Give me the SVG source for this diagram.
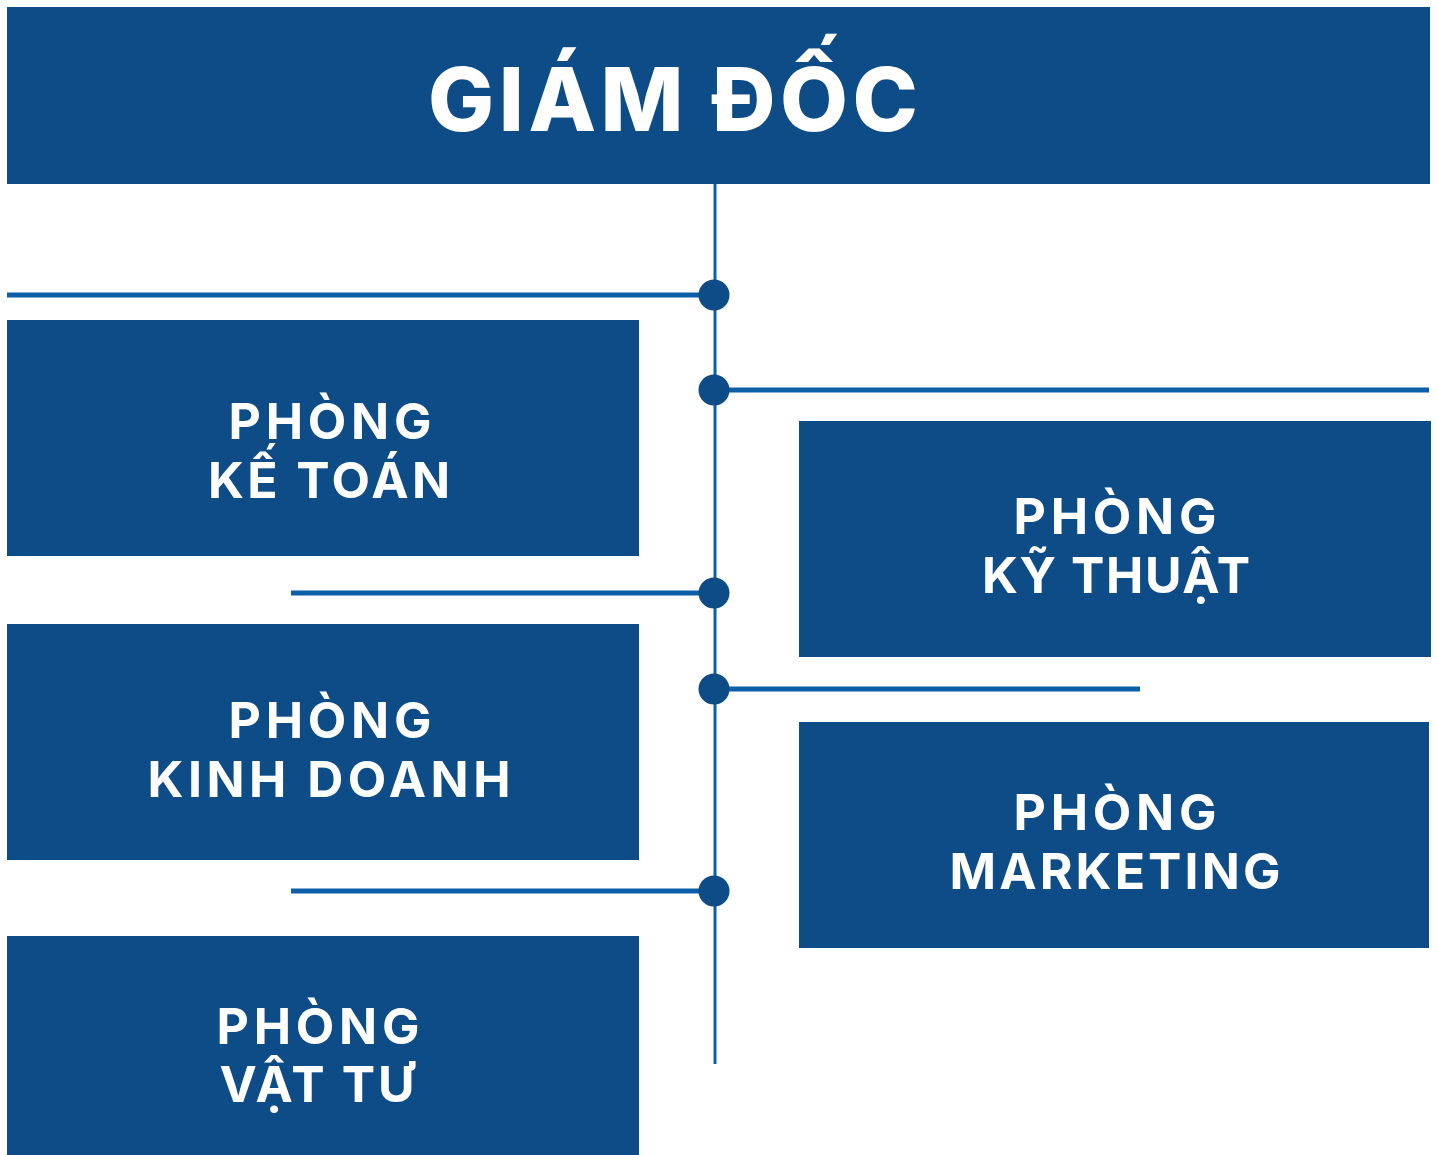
<svg xmlns="http://www.w3.org/2000/svg" width="1437" height="1155" viewBox="0 0 1437 1155">
<style>
.box{fill:#0e4c88}
.t{fill:#ffffff;font-family:Inter,"Open Sans","Liberation Sans",sans-serif;font-weight:700;text-anchor:middle}
.h{font-size:88px;font-weight:800}
.n{font-size:50px}
.ln{stroke:#0b5ea8;fill:none}
.dot{fill:#0e4c88}
</style>
<rect width="1437" height="1155" fill="#ffffff"/>
<g id="connectors">
<line class="ln" x1="715" y1="184" x2="715" y2="1064" stroke-width="3"/>
<line class="ln" x1="7" y1="295" x2="714" y2="295" stroke-width="5"/>
<line class="ln" x1="714" y1="390" x2="1429" y2="390" stroke-width="5"/>
<line class="ln" x1="291" y1="593" x2="714" y2="593" stroke-width="5"/>
<line class="ln" x1="714" y1="689" x2="1140" y2="689" stroke-width="5"/>
<line class="ln" x1="291" y1="891" x2="714" y2="891" stroke-width="5"/>
<circle class="dot" cx="714" cy="295" r="15.5"/>
<circle class="dot" cx="714" cy="390" r="15.5"/>
<circle class="dot" cx="714" cy="593" r="15.5"/>
<circle class="dot" cx="714" cy="689" r="15.5"/>
<circle class="dot" cx="714" cy="891" r="15.5"/>
</g>
<g id="giam-doc">
<rect class="box" x="7" y="7" width="1423" height="177"/>
<text class="t h" x="673" y="131" textLength="490" lengthAdjust="spacing">GIÁM ĐỐC</text>
</g>
<g id="ke-toan">
<rect class="box" x="7" y="320" width="632" height="236"/>
<text class="t n" x="330" y="439" textLength="203" lengthAdjust="spacing">PHÒNG</text>
<text class="t n" x="329" y="498" textLength="242" lengthAdjust="spacing">KẾ TOÁN</text>
</g>
<g id="ky-thuat">
<rect class="box" x="799" y="421" width="632" height="236"/>
<text class="t n" x="1115" y="534" textLength="203" lengthAdjust="spacing">PHÒNG</text>
<text class="t n" x="1116" y="593" textLength="268" lengthAdjust="spacing">KỸ THUẬT</text>
</g>
<g id="kinh-doanh">
<rect class="box" x="7" y="624" width="632" height="236"/>
<text class="t n" x="330" y="738" textLength="203" lengthAdjust="spacing">PHÒNG</text>
<text class="t n" x="329" y="797" textLength="363" lengthAdjust="spacing">KINH DOANH</text>
</g>
<g id="marketing">
<rect class="box" x="799" y="722" width="630" height="226"/>
<text class="t n" x="1115" y="830" textLength="203" lengthAdjust="spacing">PHÒNG</text>
<text class="t n" x="1115" y="889" textLength="331" lengthAdjust="spacing">MARKETING</text>
</g>
<g id="vat-tu">
<rect class="box" x="7" y="936" width="632" height="219"/>
<text class="t n" x="318" y="1044" textLength="203" lengthAdjust="spacing">PHÒNG</text>
<text class="t n" x="317" y="1102" textLength="195" lengthAdjust="spacing">VẬT TƯ</text>
</g>
</svg>
